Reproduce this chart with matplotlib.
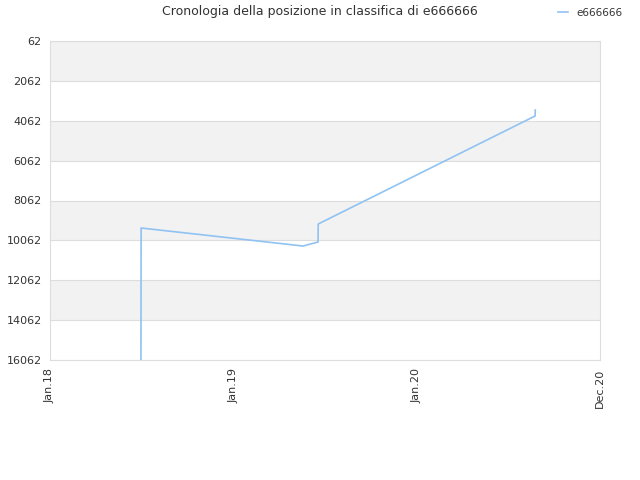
import matplotlib
matplotlib.use("Agg")
import matplotlib.pyplot as plt

# x positions: 0 = Jan.18, 1 = Jan.19, 2 = Jan.20, 3 = Dec.20 (ticks equally spaced)
x_pos = [0.496, 0.497, 1.380, 1.462, 1.463, 2.646, 2.647]
rank = [16100, 9442, 10345, 10144, 9241, 3824, 3523]

x_ticks = [0, 1, 2, 3]
x_labels = ['Jan.18', 'Jan.19', 'Jan.20', 'Dec.20']
y_ticks = [62, 2062, 4062, 6062, 8062, 10062, 12062, 14062, 16062]

fig = plt.figure(figsize=(6.4, 4.8), dpi=100)
ax = fig.add_axes([50/640, 1-360/480, 550/640, 319/480])

# alternating bands
for i in range(len(y_ticks)-1):
    if i % 2 == 0:
        ax.axhspan(y_ticks[i], y_ticks[i+1], color='#f2f2f2', zorder=0, lw=0)
for t in y_ticks:
    ax.axhline(t, color='#dddddd', lw=0.8, zorder=1)

ax.plot(x_pos, rank, color='#90c2f2', lw=1.2, zorder=3, label='e666666')

ax.set_xlim(0, 3)
ax.set_ylim(16062, 62)
ax.set_yticks(y_ticks)
ax.set_yticklabels([str(t) for t in y_ticks])
ax.set_xticks(x_ticks)
ax.set_xticklabels(x_labels, rotation=90)
ax.tick_params(axis='both', length=0, labelsize=8, labelcolor='#333333', pad=6)
for s in ax.spines.values():
    s.set_color('#dddddd')

fig.text(320/640, 1-12/480, 'Cronologia della posizione in classifica di e666666',
         ha='center', va='center', fontsize=9, color='#333333')
fig.legend(loc='center', bbox_to_anchor=(590/640, 1-13/480), frameon=False,
           fontsize=7.5, handlelength=1.0, labelcolor='#333333')

plt.savefig('out.png', dpi=100)
